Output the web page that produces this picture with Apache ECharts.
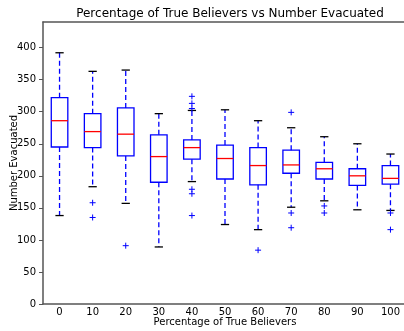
<!DOCTYPE html>
<html lang="en">
<head>
<meta charset="UTF-8">
<title>True Believers vs Evacuated</title>
<script src="https://cdn.jsdelivr.net/npm/echarts@6/dist/echarts.min.js"></script>
<style>
  html, body { margin: 0; padding: 0; background: #fff; }
  #main { width: 404px; height: 331px; }
</style>
</head>
<body>
<div id="main"></div>
<script>
// box stats per category
var categories = ['0', '10', '20', '30', '40', '50', '60', '70', '80', '90', '100'];
var lowWhisker  = [138, 183, 157, 89, 191, 124, 116, 151, 161, 147, 146];
var q1          = [245, 244, 231, 190, 226, 195, 186, 204, 195, 185, 187];
var median      = [286, 269, 265, 230, 244, 227, 216, 217, 211, 200, 196];
var q3          = [322, 297, 306, 264, 256, 248, 244, 240, 221, 211, 216];
var highWhisker = [392, 363, 365, 297, 302, 303, 286, 275, 261, 250, 234];
// outliers as [category index, value]
var outliers = [
  [1, 158], [1, 135],
  [2, 91],
  [4, 324], [4, 313], [4, 305], [4, 179], [4, 172], [4, 138],
  [6, 84],
  [7, 299], [7, 142], [7, 119],
  [8, 153], [8, 142],
  [10, 142], [10, 116]
];

var blue = '#0000ff';
var red = '#ff0000';

var boxData = categories.map(function (c, i) {
  return [i, lowWhisker[i], q1[i], median[i], q3[i], highWhisker[i]];
});

function renderBox(params, api) {
  var x = api.value(0);
  var pLow = api.coord([x, api.value(1)]);
  var pQ1 = api.coord([x, api.value(2)]);
  var pMed = api.coord([x, api.value(3)]);
  var pQ3 = api.coord([x, api.value(4)]);
  var pHigh = api.coord([x, api.value(5)]);
  var bw = api.size([1, 0])[0] * 0.5;
  var cx = pMed[0];
  var dashed = { stroke: blue, lineWidth: 1.3, lineDash: [5, 3], fill: null };
  var solid = function (col) { return { stroke: col, lineWidth: 1.3, fill: null }; };
  return {
    type: 'group',
    children: [
      { type: 'line', shape: { x1: cx, y1: pQ3[1], x2: cx, y2: pHigh[1] }, style: dashed },
      { type: 'line', shape: { x1: cx, y1: pQ1[1], x2: cx, y2: pLow[1] }, style: dashed },
      { type: 'line', shape: { x1: cx - bw / 4, y1: pHigh[1], x2: cx + bw / 4, y2: pHigh[1] }, style: solid('#000') },
      { type: 'line', shape: { x1: cx - bw / 4, y1: pLow[1], x2: cx + bw / 4, y2: pLow[1] }, style: solid('#000') },
      { type: 'rect', shape: { x: cx - bw / 2, y: pQ3[1], width: bw, height: pQ1[1] - pQ3[1] }, style: solid(blue) },
      { type: 'line', shape: { x1: cx - bw / 2, y1: pMed[1], x2: cx + bw / 2, y2: pMed[1] }, style: solid(red) }
    ]
  };
}

function renderPlus(params, api) {
  var p = api.coord([api.value(0), api.value(1)]);
  var s = 3;
  var st = { stroke: blue, lineWidth: 1, fill: null };
  return {
    type: 'group',
    children: [
      { type: 'line', shape: { x1: p[0] - s, y1: p[1], x2: p[0] + s, y2: p[1] }, style: st },
      { type: 'line', shape: { x1: p[0], y1: p[1] - s, x2: p[0], y2: p[1] + s }, style: st }
    ]
  };
}

var myChart = echarts.init(document.getElementById('main'));

var axisColor = '#555';
var font = 'DejaVu Sans';

myChart.setOption({
  backgroundColor: '#fff',
  animation: false,
  textStyle: { fontFamily: font },
  title: {
    text: 'Percentage of True Believers vs Number Evacuated',
    left: 225,
    textAlign: 'center',
    top: 3,
    textStyle: { fontFamily: font, fontSize: 12, fontWeight: 'normal', color: '#000' }
  },
  grid: { left: 43, right: -3, top: 22, bottom: 27, outerBoundsMode: 'none', containLabel: false },
  xAxis: [
    {
      type: 'category',
      data: categories,
      boundaryGap: true,
      name: 'Percentage of True Believers',
      nameLocation: 'middle',
      nameGap: 13,
      nameMoveOverlap: false,
      nameTextStyle: { fontFamily: font, fontSize: 10, color: '#000' },
      axisLine: { lineStyle: { color: axisColor, width: 1.5 } },
      axisTick: { inside: true, length: 4, alignWithLabel: true, lineStyle: { color: axisColor } },
      axisLabel: { fontFamily: font, fontSize: 10, color: '#000', margin: 3 },
      splitLine: { show: false }
    },
    {
      type: 'category',
      data: categories,
      position: 'top',
      boundaryGap: true,
      axisLine: { lineStyle: { color: axisColor, width: 1.5 } },
      axisTick: { inside: true, length: 4, alignWithLabel: true, lineStyle: { color: axisColor } },
      axisLabel: { show: false },
      splitLine: { show: false }
    }
  ],
  yAxis: {
    type: 'value',
    min: 0,
    max: 440,
    interval: 50,
    name: 'Number Evacuated',
    nameLocation: 'middle',
    nameGap: 24,
    nameMoveOverlap: false,
    nameTextStyle: { fontFamily: font, fontSize: 10, color: '#000' },
    axisLine: { show: true, lineStyle: { color: axisColor, width: 1.5 } },
    axisTick: { show: true, inside: false, length: 4, lineStyle: { color: axisColor } },
    axisLabel: {
      fontFamily: font, fontSize: 10, color: '#000', margin: 7,
      showMaxLabel: false,
      formatter: function (v) { return v % 50 === 0 ? String(v) : ''; }
    },
    splitLine: { show: false }
  },
  series: [
    {
      name: 'boxes',
      type: 'custom',
      renderItem: renderBox,
      encode: { x: 0, y: [1, 2, 3, 4, 5] },
      data: boxData,
      z: 2
    },
    {
      name: 'outliers',
      type: 'custom',
      renderItem: renderPlus,
      encode: { x: 0, y: 1 },
      data: outliers,
      z: 3
    }
  ]
});
</script>
</body>
</html>
